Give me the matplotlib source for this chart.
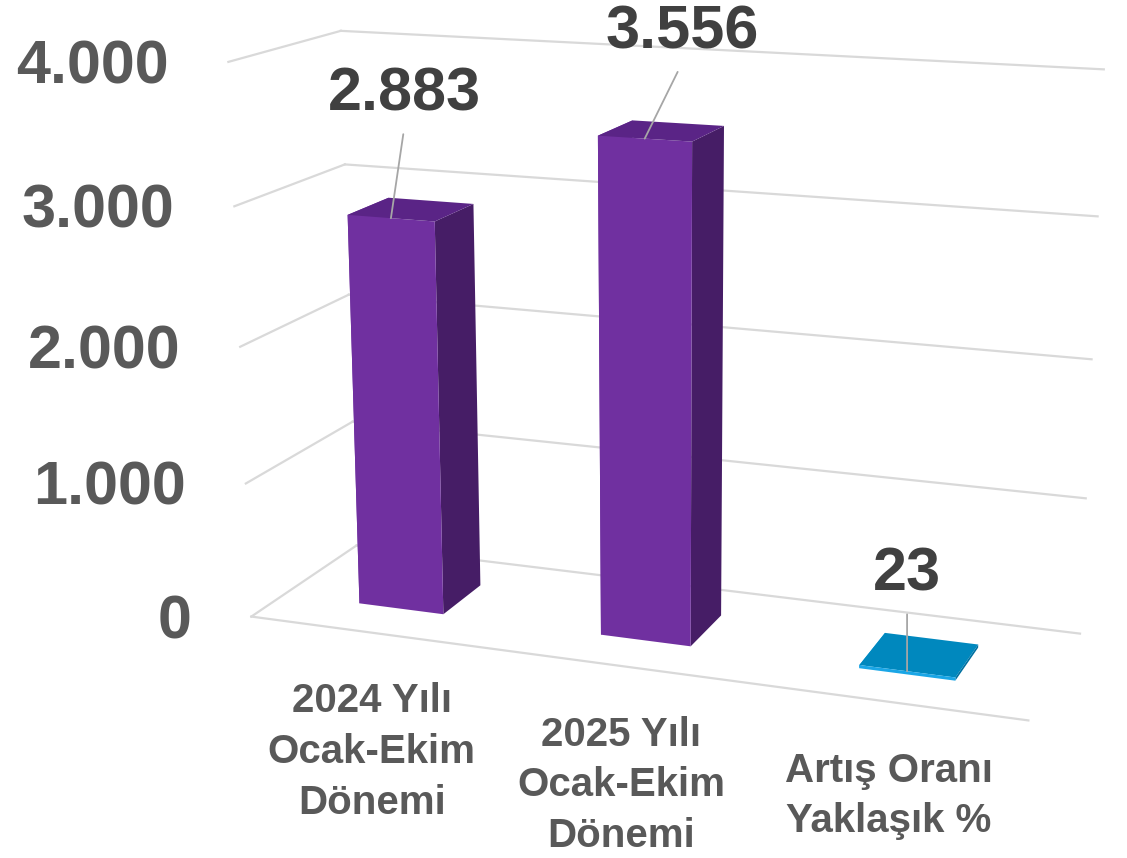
import matplotlib
matplotlib.use("Agg")
import matplotlib.pyplot as plt
from mpl_toolkits.mplot3d import proj3d

# ---------------- data ----------------
categories = ["2024 Yılı\nOcak-Ekim\nDönemi", "2025 Yılı\nOcak-Ekim\nDönemi", "Artış Oranı\nYaklaşık %"]
values = [2883, 3556, 23]
value_labels = ["2.883", "3.556", "23"]
z_ticks = [0, 1000, 2000, 3000, 4000]
z_tick_labels = ["0", "1.000", "2.000", "3.000", "4.000"]

front_colors = ["#7030A0", "#7030A0", "#1AA6E6"]
top_colors = ["#5A2486", "#5A2486", "#0088BE"]
side_colors = ["#461D66", "#461D66", "#0070A0"]

# ---------------- style ----------------
plt.rcParams['font.family'] = ['Liberation Sans', 'DejaVu Sans']
GRID = "#D9D9D9"
TICK = "#595959"
VAL = "#404040"
LEADER = "#A6A6A6"

# view / box parameters (perspective like the original 3-D column chart)
ELEV, AZIM, FOCAL = 14.53, -70.02, 0.5697
BOX_ASPECT, ZOOM = (1.0, 0.2986, 0.7067), 1.1653
X_SHIFT = 0.0014
BAR_W, BAR_D = 0.355, 0.39

fig = plt.figure(figsize=(11.27, 8.58), dpi=100)
ax = fig.add_axes([0.0771, 0.0751, 1.0, 1.0], projection='3d')
ax.set_proj_type('persp', focal_length=FOCAL)
ax.view_init(elev=ELEV, azim=AZIM)
ax.set_box_aspect(BOX_ASPECT, zoom=ZOOM)
ax.set_axis_off()
xmin, xmax = -0.5 + X_SHIFT, len(values) - 0.5 + X_SHIFT
ax.set_xlim(xmin, xmax)
ax.set_ylim(0, 1)
ax.set_zlim(z_ticks[0], z_ticks[-1])

# gridlines on the left wall and back wall, plus the floor front edge
for z in z_ticks:
    ax.plot([xmin, xmin], [0, 1], [z, z], color=GRID, lw=1.6, zorder=0, clip_on=False)
    ax.plot([xmin, xmax], [1, 1], [z, z], color=GRID, lw=1.6, zorder=0, clip_on=False)
ax.plot([xmin, xmax], [0, 0], [0, 0], color=GRID, lw=1.6, zorder=0, clip_on=False)

# 3-D columns (faces: bottom, top, front, back, left, right)
y0 = (1 - BAR_D) / 2
for i, v in enumerate(values):
    cols = ["none", top_colors[i], front_colors[i], "none", front_colors[i], side_colors[i]]
    ax.bar3d(i - BAR_W / 2, y0, 0, BAR_W, BAR_D, v, color=cols, shade=False,
             edgecolor="none", clip_on=False)

M = ax.get_proj()


def proj(x, y, z):
    px, py, _ = proj3d.proj_transform(x, y, z, M)
    return px, py

# value-axis labels
for z, lab in zip(z_ticks, z_tick_labels):
    ax.annotate(lab, xy=proj(xmin, 0, z), xycoords='data', xytext=(-60, -6),
                textcoords='offset pixels', ha='right', va='center', annotation_clip=False,
                fontsize=44, fontweight='bold', color=TICK, zorder=10)

# category labels
for i, lab in enumerate(categories):
    ax.annotate(lab, xy=proj(i, 0, 0), xycoords='data', xytext=(2, -50),
                textcoords='offset pixels', ha='center', va='top', multialignment='center',
                annotation_clip=False, zorder=10,
                fontsize=29, fontweight='bold', color=TICK, linespacing=1.42)

# value labels with leader lines
label_offsets = [(14, 95), (38, 77), (0, 68)]
for i, (v, lab) in enumerate(zip(values, value_labels)):
    ax.annotate(lab, xy=proj(i, y0, v), xycoords='data', xytext=label_offsets[i],
                textcoords='offset pixels', ha='center', va='bottom', annotation_clip=False,
                fontsize=44, fontweight='bold', color=VAL, zorder=10,
                arrowprops=dict(arrowstyle='-', color=LEADER, lw=1.3,
                                relpos=(0.5, 0.0), shrinkA=6, shrinkB=0))

fig.savefig("out.png", dpi=100)
